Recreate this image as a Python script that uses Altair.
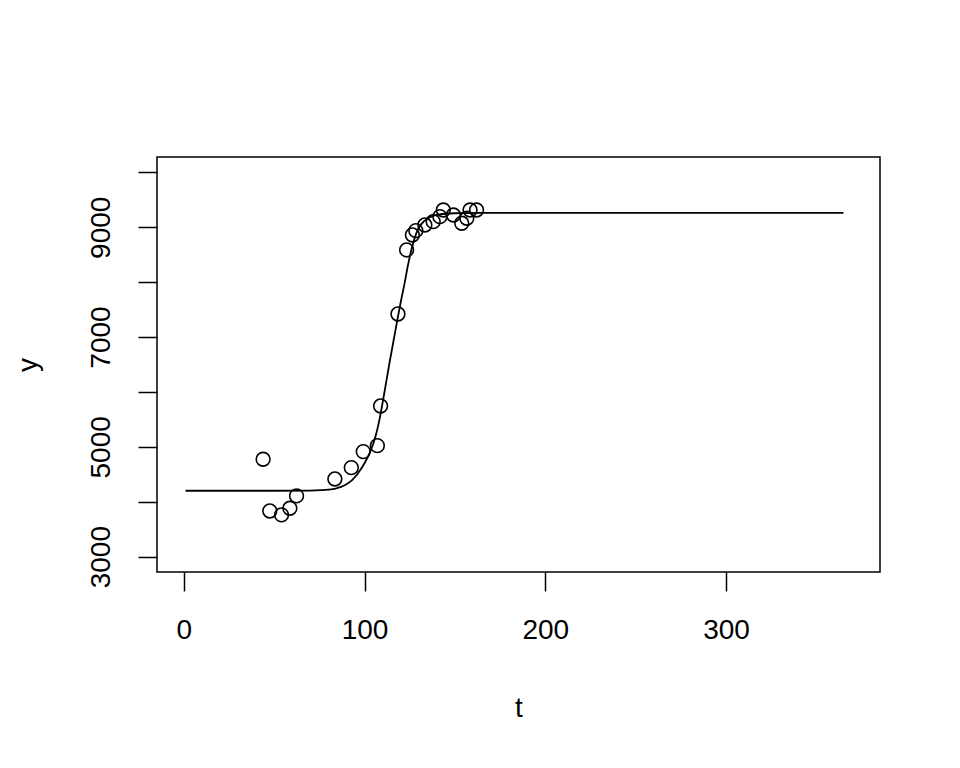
import altair as alt
import pandas as pd

# observed points
pt_t = [43.9, 47.6, 54.1, 58.7, 62.4, 83.6, 92.7, 99.3, 107.1, 108.9, 118.5,
        123.3, 126.5, 128.4, 133.4, 138.0, 141.7, 143.6, 149.2, 153.8, 156.6,
        158.4, 162.0]
pt_y = [4774, 3832, 3760, 3881, 4106, 4415, 4621, 4913, 5022, 5745, 7421,
        8587, 8860, 8938, 9042, 9102, 9193, 9315, 9224, 9073, 9164,
        9315, 9315]

# fitted curve
cv_t = [1, 50, 70, 76, 80, 84, 87, 90, 93, 96, 100, 103, 106, 108, 110, 112,
        114, 116, 118, 120, 122, 124, 126, 128, 130, 133, 136, 140, 150, 165, 365]
cv_y = [4200, 4200, 4203, 4210, 4220, 4240, 4270, 4320, 4390, 4500, 4700, 4900,
        5180, 5450, 5800, 6180, 6560, 6920, 7280, 7630, 7950, 8300, 8600, 8830,
        8990, 9110, 9180, 9225, 9255, 9262, 9262]

x_ticks = [0, 100, 200, 300]
y_ticks = [3000, 4000, 5000, 6000, 7000, 8000, 9000, 10000]

pts = pd.DataFrame({"t": pt_t, "y": pt_y})
curve = pd.DataFrame({"t": cv_t, "y": cv_y})

FONT = "Liberation Sans"
FS = 28

xscale = alt.Scale(domain=[-14.8, 385.2], nice=False, zero=False)
yscale = alt.Scale(domain=[2720, 10280], nice=False, zero=False)

xaxis = alt.Axis(values=x_ticks, title="t", domain=False, grid=False,
                 tickSize=19, tickWidth=1.5, tickColor="black",
                 labelFont=FONT, labelFontSize=FS, labelColor="black",
                 labelPadding=25, labelFlush=False, labelOverlap=False,
                 format="d", titleFont=FONT, titleFontSize=FS,
                 titleFontWeight="normal", titleColor="black",
                 titleY=136, titleBaseline="middle")
yaxis = alt.Axis(values=y_ticks, title="y", domain=False, grid=False,
                 tickSize=19, tickWidth=1.5, tickColor="black",
                 labelFont=FONT, labelFontSize=FS, labelColor="black",
                 labelAngle=-90, labelAlign="center", labelBaseline="bottom",
                 labelPadding=23, labelFlush=False, labelOverlap=False,
                 format="d",
                 labelExpr="datum.value % 2000 == 1000 ? datum.label : ''",
                 titleFont=FONT, titleFontSize=FS, titleFontWeight="normal",
                 titleColor="black", titleAngle=-90, titleX=-129, titleY=207.5,
                 titleBaseline="middle", titleAlign="center")

line = alt.Chart(curve).mark_line(color="black", strokeWidth=1.8,
                                  interpolate="monotone").encode(
    x=alt.X("t:Q", scale=xscale, axis=xaxis),
    y=alt.Y("y:Q", scale=yscale, axis=yaxis),
)

points = alt.Chart(pts).mark_point(shape="circle", filled=False, color="black",
                                   size=190, strokeWidth=1.6, opacity=1).encode(
    x=alt.X("t:Q", scale=xscale),
    y=alt.Y("y:Q", scale=yscale),
)

chart = (line + points).properties(
    width=723, height=415,
    autosize=alt.AutoSizeParams(type="none"),
    padding={"left": 149, "top": 149, "right": 70, "bottom": 186},
    background="white",
).configure_view(stroke="black", strokeWidth=1.5, fill="white")

chart.save("out.html", embed_options={"renderer": "svg", "actions": False})
